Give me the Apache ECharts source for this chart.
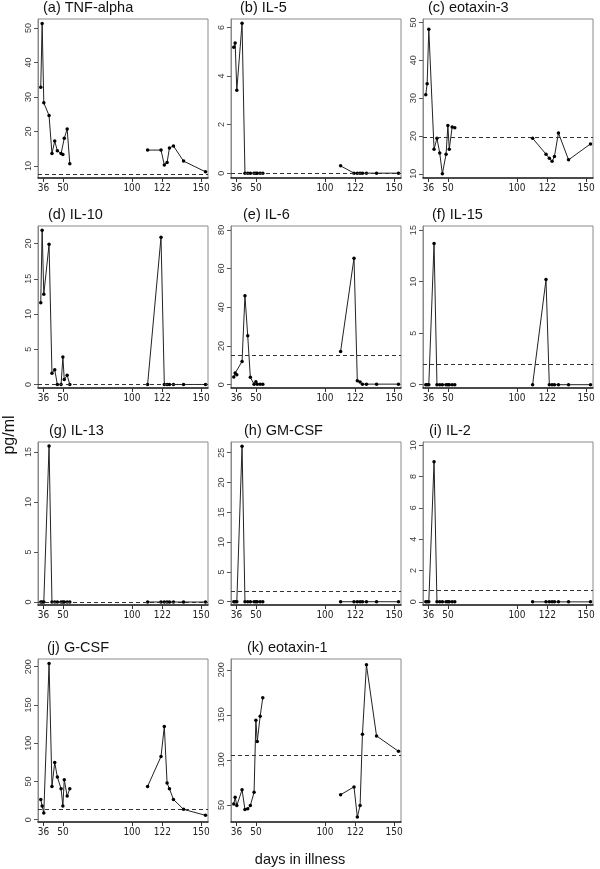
<!DOCTYPE html>
<html>
<head>
<meta charset="utf-8">
<script src="https://cdn.jsdelivr.net/npm/echarts@6/dist/echarts.min.js"></script>
<style>
  html, body { margin: 0; padding: 0; background: #fff; }
  #chart { width: 600px; height: 869px; }
</style>
</head>
<body>
<div id="chart"></div>
<script>
// sampling days (two blocks, not joined by a line)
const daysEarly = [34, 35, 36.2, 40, 42.1, 44.1, 46, 48.7, 50, 51, 53.1, 55];
const daysLate = [111.3, 121, 123.4, 125.4, 127.1, 130, 137.3, 153.2];

const panelNames = ["(a) TNF-alpha", "(b) IL-5", "(c) eotaxin-3", "(d) IL-10", "(e) IL-6",
  "(f) IL-15", "(g) IL-13", "(h) GM-CSF", "(i) IL-2", "(j) G-CSF", "(k) eotaxin-1"];

// pg/ml, early block then late block
const tnfAlpha = [32.8, 51.3, 28.3, 24.6, 13.6, 17.2, 14.4, 13.6, 13.3, 18.0, 20.7, 10.6,
  14.6, 14.6, 10.3, 11.0, 15.2, 15.8, 11.4, 8.3];
const il5 = [5.19, 5.36, 3.42, 6.17, 0, 0, 0, 0, 0, 0, 0, 0,
  0.3, 0, 0, 0, 0, 0, 0, 0];
const eotaxin3 = [30.9, 33.8, 48.2, 16.5, 19.4, 15.5, 10.0, 15.2, 22.8, 16.5, 22.4, 22.2,
  19.4, 15.2, 14.1, 13.3, 14.6, 20.8, 13.7, 17.9];
const il10 = [11.6, 21.9, 12.8, 19.9, 1.6, 2.1, 0, 0, 3.9, 0.7, 1.3, 0,
  0, 20.9, 0, 0, 0, 0, 0, 0];
const il6 = [4.0, 6.0, 5.2, 12, 46, 25.3, 3.8, 0.3, 1.5, 0.3, 0.3, 0.3,
  17.2, 65.4, 2.1, 1.4, 0.3, 0.3, 0.3, 0.3];
const il15 = [0, 0, 0, 13.7, 0, 0, 0, 0, 0, 0, 0, 0,
  0, 10.2, 0, 0, 0, 0, 0, 0];
const il13 = [0, 0, 0, 15.6, 0, 0, 0, 0, 0, 0, 0, 0,
  0, 0, 0, 0, 0, 0, 0, 0];
const gmCsf = [0, 0, 0, 26.1, 0, 0, 0, 0, 0, 0, 0, 0,
  0, 0, 0, 0, 0, 0, 0, 0];
const il2 = [0, 0, 0, 8.94, 0, 0, 0, 0, 0, 0, 0, 0,
  0, 0, 0, 0, 0, 0, 0, 0];
const gCsf = [26.5, 17.8, 8.7, 204, 43.5, 74.8, 55.7, 40.4, 17.8, 52.2, 30.9, 40.4,
  43.5, 82.6, 121.7, 47.8, 40.4, 26.5, 13.5, 5.7];
const eotaxin1 = [51, 58.4, 49.3, 66.8, 44.9, 45.6, 49.3, 63.9, 144, 120.4, 148.5, 169,
  61.3, 70, 36.5, 49.3, 128.5, 205.5, 126.6, 109.5];

const panelValues = [tnfAlpha, il5, eotaxin3, il10, il6, il15, il13, gmCsf, il2, gCsf, eotaxin1];

// dashed reference levels
const thresholds = [7.6, 0, 19.6, 0, 15.1, 2.0, 0, 1.8, 0.74, 13.5, 105];

const xTicks = [36, 50, 100, 122, 150];
const yTicks = [
  [10, 20, 30, 40, 50], [0, 2, 4, 6], [10, 20, 30, 40, 50],
  [0, 5, 10, 15, 20], [0, 20, 40, 60, 80], [0, 5, 10, 15],
  [0, 5, 10, 15], [0, 5, 10, 15, 20, 25], [0, 2, 4, 6, 8, 10],
  [0, 50, 100, 150, 200], [50, 100, 150, 200]
];
const yRanges = [
  [6.5, 52.6], [-0.2, 6.35], [8.9, 50.9],
  [-0.5, 22.5], [-1.7, 82], [-0.32, 15.4],
  [-0.3, 16], [-0.55, 26.8], [-0.2, 10.2],
  [-3, 210], [31, 212]
];

// layout
const colLeft = [38, 231, 423];
const rowTop = [19, 226, 442, 659];
const rowBottom = [178, 388, 605, 822];
const titleX = [43, 240, 428, 48, 243, 432, 49, 244, 429, 47, 247];

const chart = echarts.init(document.getElementById("chart"), null, { renderer: "canvas" });

const grids = [], xAxes = [], yAxes = [], series = [], titles = [];
const tickFont = "'Liberation Sans Narrow', 'DejaVu Sans Condensed', 'Liberation Sans', sans-serif";

panelValues.forEach((vals, i) => {
  const row = Math.floor(i / 3), col = i % 3;
  grids.push({
    left: colLeft[col], top: rowTop[row], width: 170, height: rowBottom[row] - rowTop[row],
    show: true, borderColor: "#8a8a8a", borderWidth: 1, backgroundColor: "transparent"
  });
  xAxes.push({
    type: "value", gridIndex: i, min: 32, max: 155,
    splitLine: { show: false },
    axisLine: { show: true, onZero: false, lineStyle: { color: "#222", width: 1.5 } },
    axisTick: { show: true, customValues: xTicks, length: 4, lineStyle: { color: "#333" } },
    axisLabel: { customValues: xTicks, fontSize: 10, color: "#222", margin: 5, fontFamily: tickFont }
  });
  yAxes.push({
    type: "value", gridIndex: i, min: yRanges[i][0], max: yRanges[i][1],
    splitLine: { show: false },
    axisLine: { show: true, onZero: false, lineStyle: { color: "#8a8a8a", width: 1 } },
    axisTick: { show: true, customValues: yTicks[i], length: 4, lineStyle: { color: "#555" } },
    axisLabel: { customValues: yTicks[i], rotate: 90, fontSize: 9, color: "#3a3a3a", margin: 5,
      fontFamily: "'Liberation Sans', Arial, sans-serif" }
  });
  const early = daysEarly.map((d, k) => [d, vals[k]]);
  const late = daysLate.map((d, k) => [d, vals[daysEarly.length + k]]);
  [early, late].forEach((part, p) => {
    series.push({
      type: "line", xAxisIndex: i, yAxisIndex: i, data: part,
      symbol: "circle", symbolSize: 3.5, showAllSymbol: true,
      lineStyle: { color: "#222", width: 1 },
      itemStyle: { color: "#000" },
      markLine: p === 0 ? {
        silent: true, symbol: "none", label: { show: false },
        lineStyle: { color: "#333", width: 1, type: [4, 3] },
        data: [{ yAxis: thresholds[i] }]
      } : undefined,
      z: 3
    });
  });
  titles.push({
    text: panelNames[i], left: titleX[i], top: rowTop[row] - 19, padding: 0,
    textStyle: { fontSize: 14.5, fontWeight: "normal", color: "#111",
      fontFamily: "'Liberation Sans', Arial, sans-serif" }
  });
});

const option = {
  animation: false,
  backgroundColor: "#fff",
  title: titles,
  grid: grids,
  xAxis: xAxes,
  yAxis: yAxes,
  series: series,
  graphic: [
    {
      type: "text", x: 10, y: 435, rotation: Math.PI / 2,
      style: { text: "pg/ml", fontSize: 16, fill: "#111", align: "center", verticalAlign: "middle",
        fontFamily: "'Liberation Sans', Arial, sans-serif" }
    },
    {
      type: "text", x: 300, y: 860,
      style: { text: "days in illness", fontSize: 14.5, fill: "#111", align: "center", verticalAlign: "middle",
        fontFamily: "'Liberation Sans', Arial, sans-serif" }
    }
  ]
};

chart.setOption(option);
</script>
</body>
</html>
